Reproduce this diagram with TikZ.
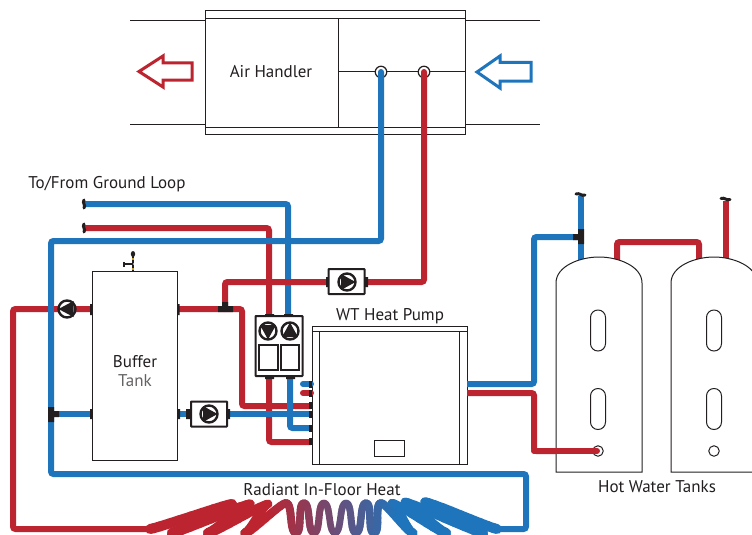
\documentclass[tikz,border=0pt]{standalone}
\usepackage{fontspec}
\setmainfont{PT Sans}
\definecolor{pipered}{RGB}{188,36,48}
\definecolor{pipeblue}{RGB}{31,117,188}
\definecolor{ink}{RGB}{35,31,32}
\definecolor{gold}{RGB}{200,160,40}
\tikzset{
  redpipe/.style={draw=pipered,line width=6pt,rounded corners=2.5pt},
  bluepipe/.style={draw=pipeblue,line width=6pt,rounded corners=2.5pt},
  outline/.style={draw=ink,line width=1pt},
  boxn/.style={draw=ink,line width=1pt,fill=white,inner sep=0pt},
  pumpbox/.style={draw=ink,line width=2pt,fill=white,inner sep=0pt,rounded corners=0.5pt},
  disc/.style={circle,draw=ink,line width=2.4pt,fill=white,minimum size=17pt,inner sep=0pt},
  port/.style={circle,draw=ink,line width=1.2pt,fill=white,minimum size=11.5pt,inner sep=0pt},
  lab/.style={text=ink,inner sep=0pt,font=\fontsize{17}{19}\selectfont},
  tri/.style={fill=ink,draw=none},
  stub/.style={fill=ink,draw=none},
  airarrow/.style={line width=3pt,fill=white,miter limit=10},
  wiggle/.style={draw=ink,line width=3pt,line cap=round},
}
% one leg of the floor loop, drawn in short pieces coloured by position
\newcommand{\floorleg}[4]{%
  \pgfmathsetmacro{\dirx}{(#3>#1?1:-1)*(abs(#3-#1)<15?7:5)}%
  \pgfmathsetmacro{\ca}{#1+\dirx}%
  \pgfmathsetmacro{\cb}{#3-\dirx}%
  \foreach \i in {1,...,10}{%
    \pgfmathsetmacro{\tb}{\i/10}%
    \pgfmathsetmacro{\ta}{(\i-1)/10}%
    \pgfmathsetmacro{\xa}{(1-\ta)^3*#1+3*(1-\ta)^2*\ta*\ca+3*(1-\ta)*\ta^2*\cb+\ta^3*#3}%
    \pgfmathsetmacro{\ya}{(1-\ta)^3*#2+3*(1-\ta)^2*\ta*#2+3*(1-\ta)*\ta^2*#4+\ta^3*#4}%
    \pgfmathsetmacro{\xb}{(1-\tb)^3*#1+3*(1-\tb)^2*\tb*\ca+3*(1-\tb)*\tb^2*\cb+\tb^3*#3}%
    \pgfmathsetmacro{\yb}{(1-\tb)^3*#2+3*(1-\tb)^2*\tb*#2+3*(1-\tb)*\tb^2*#4+\tb^3*#4}%
    \pgfmathsetmacro{\pc}{max(0,min(100,(400-(\xa+\xb)/2)/130*100))}%
    \pgfmathsetmacro{\lw}{6.5+3.5*min(1,abs((\xa+\xb)/2-335)/110)}%
    \draw[draw=pipered!\pc!pipeblue,line width=\lw pt,line cap=round] (\xa,\ya) -- (\xb,\yb);%
  }%
}
\begin{document}
\begin{tikzpicture}[x=1pt,y=-1pt]
\useasboundingbox (0,0) rectangle (752,535);
\fill[white] (0,0) rectangle (752,535);

% ---------- named places ----------
\coordinate (gbEnd) at (84,204);
\coordinate (grEnd) at (84,228);
\coordinate (ahB) at (381,72);
\coordinate (ahR) at (424,72);

% ---------- air handler ----------
\draw[outline] (130,21) -- (205,21) (130,124) -- (205,124) (465,21) -- (540,21) (465,124) -- (540,124);
\node[boxn,minimum width=260pt,minimum height=123pt] (ah) at (335,72.5) {};
\draw[outline] (205,18.5) -- (465,18.5) (205,127) -- (465,127);
\draw[outline] (338,18.5) -- (338,127) (338,72) -- (465,72);
\node[lab] (ahlabel) at (271,72) {Air Handler};
\draw[airarrow,draw=pipered] (139,71.5) -- (163,56) -- (163,63) -- (192,63) -- (192,80) -- (163,80) -- (163,87) -- cycle;
\draw[airarrow,draw=pipeblue] (477,72) -- (500,56) -- (500,62.5) -- (531,62.5) -- (531,81) -- (500,81) -- (500,88) -- cycle;
\node[port] (pb) at (ahB) {};
\node[port] (pr) at (ahR) {};

% ---------- tanks and heat pump shapes ----------
\node[boxn,minimum width=84.5pt,minimum height=189pt] (buffer) at (134.75,366) {};
\node[boxn,minimum width=155pt,minimum height=138pt] (hp) at (389.5,395) {};
\draw[outline] (312,331) -- (467,331) (319,331) -- (319,464) (459,331) -- (459,464);
\node[boxn,minimum width=30pt,minimum height=16pt] (hpbox) at (389,448) {};

% ---------- pipes ----------
\draw[bluepipe] (gbEnd) -- (288,204) -- (288,316);
\draw[redpipe] (grEnd) -- (269,228) -- (269,316);
\draw[bluepipe,line cap=round] (ahB) -- (381,241) -- (51,241) -- (51,474) -- (526,474) -- (526,529) -- (497,529);
\draw[redpipe,line cap=round] (ahR) -- (424,282) -- (225,282) -- (225,309);
\draw[redpipe] (150,529) -- (13,529) -- (13,309) -- (92,309);
\draw[bluepipe] (51,300) -- (51,320);
\draw[redpipe] (177,309) -- (242,309) -- (242,406) -- (311,406);
\draw[redpipe] (269,376) -- (269,442) -- (311,442);
\draw[bluepipe] (290,376) -- (290,428) -- (311,428);
\draw[bluepipe] (51,414) -- (92,414);
\draw[bluepipe] (177,414) -- (311,414);
\draw[bluepipe,line cap=round] (303,384) -- (311,384);
\draw[redpipe,line cap=round] (303,393) -- (311,393);
\draw[bluepipe] (467,384) -- (534,384) -- (534,237) -- (581,237);
\draw[redpipe] (467,393) -- (534,393) -- (534,451) -- (597,451);
\draw[bluepipe] (581,196) -- (581,262);
\draw[redpipe] (617,262) -- (617,242) -- (699,242) -- (699,262);
\draw[redpipe] (725.5,201) -- (725.5,262);

% ---------- hot water tanks ----------
\path[fill=white,draw=ink,line width=1pt] (556,472) -- (556,283) .. controls (556,266) and (580,257) .. (599,257) .. controls (618,257) and (642,266) .. (642,283) -- (642,472) -- cycle;
\path[fill=white,draw=ink,line width=1pt] (671,472) -- (671,283) .. controls (671,266) and (695,257) .. (714,257) .. controls (733,257) and (757,266) .. (757,283) -- (757,472) -- cycle;
\foreach \cx/\nm in {598/a,714/b}{
  \node[draw=ink,line width=1pt,rounded corners=7.4pt,minimum width=15pt,minimum height=41pt,inner sep=0pt] (ovu\nm) at (\cx,330.5) {};
  \node[draw=ink,line width=1pt,rounded corners=7.4pt,minimum width=15pt,minimum height=41pt,inner sep=0pt] (ovl\nm) at (\cx,409) {};
  \node[circle,draw=ink,line width=1pt,minimum size=10.5pt,inner sep=0pt] (drain\nm) at (\cx,451) {};
}
\draw[redpipe,line cap=round] (534,451) -- (597,451);

% ---------- fittings ----------
\fill[stub] (218,306) rectangle (233,312) (222,302) rectangle (228,308);
\fill[stub] (48,407) rectangle (54,422) (50,411) rectangle (59,417);
\fill[stub] (573,234) rectangle (584,240) (578,229) rectangle (584,244);
\fill[stub] (90,304) rectangle (92.5,315) (177,304) rectangle (179.5,315);
\fill[stub] (90,409) rectangle (92.5,419) (177,409) rectangle (180,419);
\foreach \yy in {381,390,402,411,425,438}{\fill[stub] (309,\yy) rectangle (312,\yy+7);}
\fill[stub] (265,314) rectangle (274,317) (284,314) rectangle (293,317);
\fill[stub] (265,376) rectangle (274,379) (286,376) rectangle (295,379);

% ends of the open pipes
\draw[wiggle] (84,200) .. controls (82,203) and (86,205) .. (84,208);
\draw[wiggle] (84,224) .. controls (82,227) and (86,229) .. (84,232);
\draw[wiggle] (576,194) .. controls (579,192.5) and (582,196.5) .. (585,195);
\draw[wiggle] (721,198.5) .. controls (724,197) and (727,201) .. (730,199.5);

% buffer tank fitting
\draw[draw=ink,line width=2.4pt] (133,256) -- (133,271);
\draw[draw=gold,line width=2.4pt,dash pattern=on 2pt off 3pt] (133,258) -- (133,271);
\fill[ink] (133,254) ellipse (2.2pt and 3pt);
\draw[draw=ink,line width=1.6pt] (124,264) -- (133,264);
\fill[ink] (122.5,261.5) rectangle (125,266.5);

% ---------- pumps ----------
\node[disc] (pumpL) at (67,309) {};
\fill[tri] (58.5,309) -- (73.5,301) -- (73.5,317) -- cycle;

\fill[stub] (186,409) rectangle (191,419) (227,409) rectangle (230,419);
\node[pumpbox,minimum width=36pt,minimum height=25pt] (pumpB) at (209,414) {};
\node[disc] (pumpBc) at (209,414) {};
\fill[tri] (217.5,414) -- (203,406) -- (203,422) -- cycle;

\fill[stub] (326,277) rectangle (329,287) (365,277) rectangle (368,287);
\node[pumpbox,minimum width=36pt,minimum height=25pt] (pumpT) at (346.5,281.5) {};
\node[disc] (pumpTc) at (347,282) {};
\fill[tri] (355.5,282) -- (341,274) -- (341,290) -- cycle;

\node[pumpbox,minimum width=47pt,minimum height=60pt] (pumpD) at (279,346) {};
\node[disc] (pd1) at (268,331) {};
\node[disc] (pd2) at (290,331) {};
\fill[tri] (268,339.5) -- (260,325) -- (276,325) -- cycle;
\fill[tri] (290,322.5) -- (282,337) -- (298,337) -- cycle;
\node[draw=ink,line width=1.6pt,fill=white,minimum width=18.5pt,minimum height=25pt,inner sep=0pt] (pdr1) at (268.5,357.5) {};
\node[draw=ink,line width=1.6pt,fill=white,minimum width=18pt,minimum height=25pt,inner sep=0pt] (pdr2) at (290,357.5) {};

% ---------- radiant floor loop ----------
\floorleg{150}{529}{232}{504}
\floorleg{232}{504}{172}{533}
\floorleg{172}{533}{250}{504}
\floorleg{250}{504}{208}{533}
\floorleg{208}{533}{268}{504}
\floorleg{268}{504}{245}{533}
\floorleg{245}{533}{286}{503}
\floorleg{286}{503}{296}{533}
\floorleg{296}{533}{304}{503}
\floorleg{304}{503}{314}{533}
\floorleg{314}{533}{324}{503}
\floorleg{324}{503}{335}{533}
\floorleg{335}{533}{346}{503}
\floorleg{346}{503}{356}{533}
\floorleg{356}{533}{366}{503}
\floorleg{366}{503}{374}{533}
\floorleg{374}{533}{381}{503}
\floorleg{381}{503}{413}{533}
\floorleg{413}{533}{392}{503}
\floorleg{392}{503}{446}{533}
\floorleg{446}{533}{405}{502}
\floorleg{405}{502}{483}{533}
\floorleg{483}{533}{425}{502}
\floorleg{425}{502}{497}{529}

% ---------- labels ----------
\node[lab] (lground) at (107,184) {To/From Ground Loop};
\node[lab] (lbuf) at (135,362) {Buffer};
\node[lab,text=ink!70] (ltank) at (135,381) {Tank};
\node[lab] (lhp) at (390,316) {WT Heat Pump};
\node[lab] (lrad) at (322,490) {Radiant In-Floor Heat};
\node[lab] (lhw) at (657,487) {Hot Water Tanks};
\end{tikzpicture}
\end{document}
